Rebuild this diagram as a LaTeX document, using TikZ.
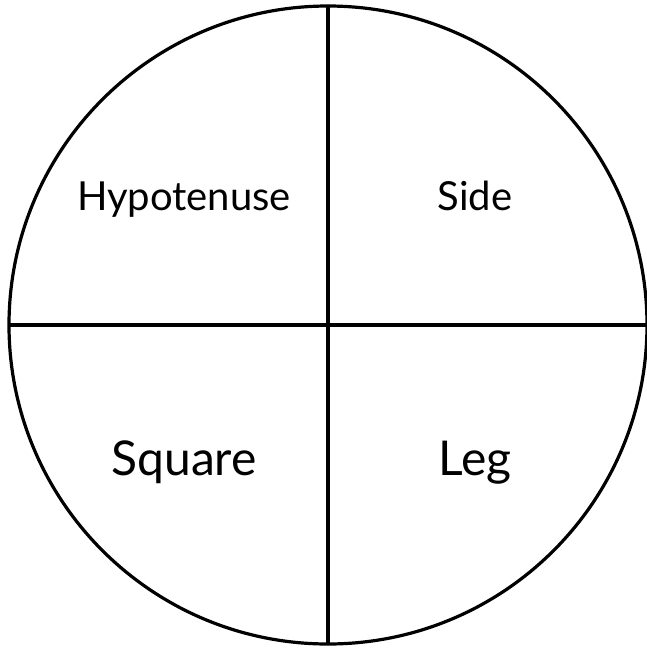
\documentclass[tikz,border=0pt]{standalone}
\usepackage{fontspec}
\setmainfont{Lato}
\usepackage{tikz}
\usetikzlibrary{positioning}

\begin{document}
\begin{tikzpicture}[x=1pt, y=-1pt, line width=3.2pt,
    small/.style={anchor=base, font=\fontsize{40}{44}\selectfont},
    big/.style={anchor=base, font=\fontsize{48}{52}\selectfont}]
    % frame of the picture
    \useasboundingbox (0,0) rectangle (647,649);
    % circle and the two cuts
    \coordinate (O) at (328,325);
    \draw (O) circle (319pt);
    \coordinate (top) at (328,6);
    \coordinate (bottom) at (328,644);
    \coordinate (left) at (9,325);
    \coordinate (right) at (647,325);
    \draw (top) -- (bottom);
    \draw (left) -- (right);
    % labels
    \node[small] (hyp) at (184,210) {Hypotenuse};
    \node[small] (side) at (475,210) {Side};
    \node[big] (square) at (184,475) {Square};
    \node[big] (leg) at (475,475) {Leg};
\end{tikzpicture}
\end{document}
